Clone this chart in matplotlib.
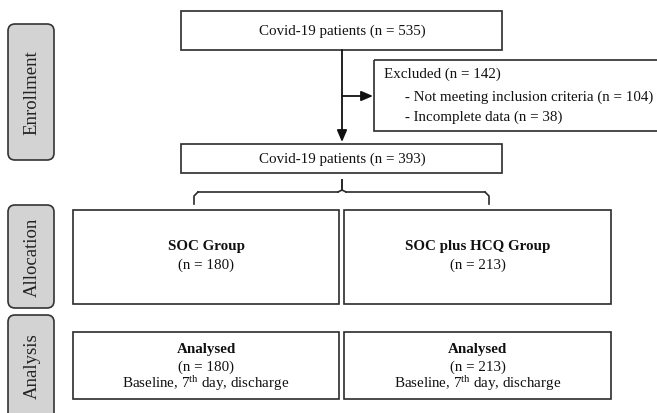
import matplotlib
matplotlib.use("Agg")
import matplotlib.pyplot as plt
from matplotlib.patches import FancyBboxPatch, Rectangle

plt.rcParams['font.family'] = ['Liberation Serif', 'DejaVu Serif']
plt.rcParams['mathtext.fontset'] = 'custom'
plt.rcParams['mathtext.rm'] = 'Liberation Serif'
plt.rcParams['mathtext.it'] = 'Liberation Serif:italic'
plt.rcParams['mathtext.bf'] = 'Liberation Serif:bold'

# ---- data ----
stage_labels = ["Enrollment", "Allocation", "Analysis"]
total_n = 535
excluded_n = 142
exclusion_reasons = ["Not meeting inclusion criteria", "Incomplete data"]
exclusion_counts = [104, 38]
included_n = 393
group_names = ["SOC Group", "SOC plus HCQ Group"]
group_counts = [180, 213]
analysis_title = "Analysed"
analysis_note = "Baseline, 7$^{\\mathrm{th}}$ day, discharge"

W, H = 657, 414
fig = plt.figure(figsize=(W / 100, H / 100), dpi=100)
ax = fig.add_axes([0, 0, 1, 1])
ax.set_xlim(0, W)
ax.set_ylim(H, 0)
ax.axis('off')

EC = '#2b2b2b'
LW = 1.2
FS = 10.8
TC = '#111111'

def box(x0, y0, x1, y1, lw=LW):
    ax.add_patch(Rectangle((x0, y0), x1 - x0, y1 - y0, fill=False,
                           ec=EC, lw=lw, clip_on=False))

# side stage labels
stage_boxes = [(8, 25, 54, 161), (8, 206, 54, 309), (8, 316, 54, 440)]
stage_text_y = [93, 257.5, 366]
for lab, (x0, y0, x1, y1), yc in zip(stage_labels, stage_boxes, stage_text_y):
    ax.add_patch(FancyBboxPatch((x0, y0), x1 - x0, y1 - y0,
                                boxstyle="round,pad=0,rounding_size=7",
                                fc='#d3d3d3', ec='#333333', lw=1.2, clip_on=True))
    ax.text((x0 + x1) / 2 + 1, yc, lab, rotation=90, ha='center', va='center',
            fontsize=13.5, color='#222222')

# top box
box(181, 12, 502, 51)
ax.text(342, 31.5, f"Covid-19 patients (n = {total_n})", ha='center', va='center',
        fontsize=FS, color=TC)

# main vertical arrow
ax.annotate("", xy=(342, 143), xytext=(342, 51),
            arrowprops=dict(arrowstyle='-|>,head_length=0.7,head_width=0.3',
                            color=TC, lw=1.3, shrinkA=0, shrinkB=0))
# side arrow
ax.annotate("", xy=(373, 97), xytext=(342, 97),
            arrowprops=dict(arrowstyle='-|>,head_length=0.7,head_width=0.3',
                            color=TC, lw=1.3, shrinkA=0, shrinkB=0))

# excluded box (extends past right edge)
box(374, 61, 662, 132)
ax.text(384, 74, f"Excluded (n = {excluded_n})", ha='left', va='center',
        fontsize=FS, color=TC)
for i, (r, c) in enumerate(zip(exclusion_reasons, exclusion_counts)):
    ax.text(405, 97 + i * 20, f"- {r} (n = {c})", ha='left', va='center',
            fontsize=FS, color=TC)

# second box
box(181, 145, 502, 174)
ax.text(342, 159.5, f"Covid-19 patients (n = {included_n})", ha='center', va='center',
        fontsize=FS, color=TC)

# brace
bx0, bx1, bcx = 194, 489, 342
by_top, by_mid, by_end = 181, 193, 205
r = 4
ax.plot([bx0, bx0, bx0 + r], [by_end, by_mid + r, by_mid], color=EC, lw=1.2)
ax.plot([bx0 + r, bcx - r], [by_mid, by_mid], color=EC, lw=1.2)
ax.plot([bcx - r, bcx, bcx, bcx, bcx + r], [by_mid, by_mid - 2, by_top, by_mid - 2, by_mid],
        color=EC, lw=1.2)
ax.plot([bcx + r, bx1 - r], [by_mid, by_mid], color=EC, lw=1.2)
ax.plot([bx1 - r, bx1, bx1], [by_mid, by_mid + r, by_end], color=EC, lw=1.2)

# group boxes
group_x = [(73, 339), (344, 611)]
for (x0, x1), name, n in zip(group_x, group_names, group_counts):
    box(x0, 211, x1, 305)
    xc = (x0 + x1) / 2
    ax.text(xc, 247, name, ha='center', va='center', fontsize=FS,
            fontweight='bold', color=TC)
    ax.text(xc, 265, f"(n = {n})", ha='center', va='center', fontsize=FS,
            color=TC)

# analysis boxes
for (x0, x1), n in zip(group_x, group_counts):
    box(x0, 333, x1, 400)
    xc = (x0 + x1) / 2
    ax.text(xc, 350, analysis_title, ha='center', va='center', fontsize=FS,
            fontweight='bold', color=TC)
    ax.text(xc, 367, f"(n = {n})", ha='center', va='center', fontsize=FS,
            color=TC)
    ax.text(xc, 384, analysis_note, ha='center', va='center', fontsize=FS,
            color=TC)

fig.savefig("out.png", dpi=100)
